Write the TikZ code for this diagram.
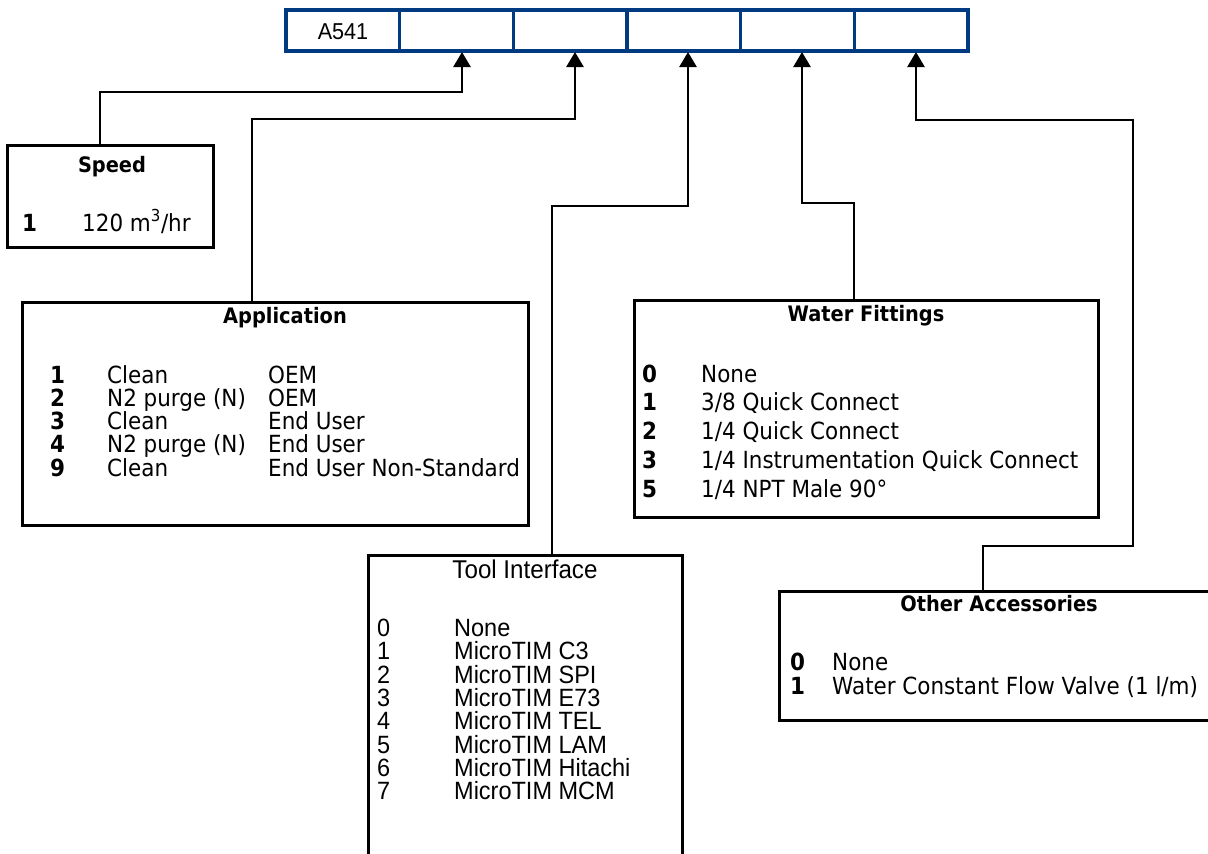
\documentclass[tikz,border=0pt]{standalone}
\usepackage{fontspec}
\setmainfont{DejaVu Sans}[FakeStretch=0.91]
\newfontfamily\arialf{Liberation Sans}[FakeStretch=0.94]
\usetikzlibrary{arrows.meta}
\definecolor{barblue}{RGB}{0,58,128}
\begin{document}
\begin{tikzpicture}[x=1pt,y=-1pt,
  cell/.style={draw=barblue,line width=3.3pt,minimum width=113.67pt,minimum height=41pt,inner sep=0pt,outer sep=0pt,anchor=north west},
  box/.style={draw=black,line width=3pt,inner sep=0pt,outer sep=0pt},
  conn/.style={draw=black,line width=2.6pt},
  arr/.style={conn,-{Triangle[length=15pt,width=17pt]}},
  tight/.style={inner sep=0pt,text height=0.72em,text depth=0.12em},
  ttl/.style={tight,font=\fontsize{21.3}{24}\selectfont\bfseries,anchor=base},
  txt/.style={tight,font=\fontsize{23.6}{26}\selectfont,anchor=base west},
  num/.style={tight,font=\fontsize{23.6}{26}\selectfont\bfseries,anchor=base west},
  ttl2/.style={tight,font=\arialf\fontsize{25.7}{28}\selectfont,anchor=base},
  ttxt/.style={tight,font=\arialf\fontsize{25}{28}\selectfont,anchor=base west},
]
\useasboundingbox (0,0) rectangle (1208,854);
\fill[white] (0,0) rectangle (1208,854);

% code bar
\node[cell] (c0) at (286,10) {};
\node[cell] (c1) at (399.67,10) {};
\node[cell] (c2) at (513.33,10) {};
\node[cell] (c3) at (627,10) {};
\node[cell] (c4) at (740.67,10) {};
\node[cell] (c5) at (854.33,10) {};
\node[tight,font=\arialf\fontsize{23}{26}\selectfont,anchor=base] (code) at (343,39) {A541};

% boxes
\node[box,minimum width=506pt,minimum height=223pt] (app) at (275,413.5) {};
\node[box,minimum width=206pt,minimum height=102pt] (spd) at (110,196) {};
\node[box,minimum width=464pt,minimum height=217pt] (wat) at (866,408.5) {};
\node[box,minimum width=314pt,minimum height=330pt] (tool) at (525,720) {};
\node[box,minimum width=461pt,minimum height=129pt] (oth) at (1009.5,655.5) {};

% connectors
\coordinate (k1) at (100,92);
\coordinate (k2) at (252,119);
\coordinate (k3) at (552,206);
\coordinate (k4) at (854,203);
\coordinate (k5a) at (983,546);
\coordinate (k5b) at (1133,546);
\coordinate (k5c) at (1133,120);
\draw[arr] (spd.north -| k1) -- (k1) -| ([shift={(5.5,1)}]c1.south);
\draw[arr] (app.north -| k2) -- (k2) -| ([shift={(4.83,1)}]c2.south);
\draw[arr] (tool.north -| k3) -- (k3) -| ([shift={(4.17,1)}]c3.south);
\draw[arr] (wat.north -| k4) -- (k4) -| ([shift={(4.5,1)}]c4.south);
\draw[arr] (oth.north -| k5a) -- (k5a) -- (k5b) -- (k5c) -| ([shift={(4.83,1)}]c5.south);

% Speed
\node[ttl] (spdt) at (112,172) {Speed};
\node[num] (s1n) at (22,231) {1};
\node[txt] (s1t) at (82,231) {120 m\textsuperscript{3}/hr};

% Application
\node[ttl] (appt) at (285,323) {Application};
\node[num] (a1n) at (50,383) {1};
\node[txt] (a1a) at (107,383) {Clean};
\node[txt] (a1b) at (268,383) {OEM};
\node[num] (a2n) at (50,406.3) {2};
\node[txt] (a2a) at (107,406.3) {N2 purge (N)};
\node[txt] (a2b) at (268,406.3) {OEM};
\node[num] (a3n) at (50,429.6) {3};
\node[txt] (a3a) at (107,429.6) {Clean};
\node[txt] (a3b) at (268,429.6) {End User};
\node[num] (a4n) at (50,452.9) {4};
\node[txt] (a4a) at (107,452.9) {N2 purge (N)};
\node[txt] (a4b) at (268,452.9) {End User};
\node[num] (a5n) at (50,476.2) {9};
\node[txt] (a5a) at (107,476.2) {Clean};
\node[txt] (a5b) at (268,476.2) {End User Non-Standard};

% Water Fittings
\node[ttl] (watt) at (866,321) {Water Fittings};
\node[num] (w0n) at (642,382) {0};
\node[txt] (w0t) at (701,382) {None};
\node[num] (w1n) at (642,410.8) {1};
\node[txt] (w1t) at (701,410.8) {3/8 Quick Connect};
\node[num] (w2n) at (642,439.6) {2};
\node[txt] (w2t) at (701,439.6) {1/4 Quick Connect};
\node[num] (w3n) at (642,468.4) {3};
\node[txt] (w3t) at (701,468.4) {1/4 Instrumentation Quick Connect};
\node[num] (w5n) at (642,497.2) {5};
\node[txt] (w5t) at (701,497.2) {1/4 NPT Male 90°};

% Tool Interface
\node[ttl2] (toolt) at (525,578) {Tool Interface};
\node[ttxt] (t0n) at (377,636.5) {0};
\node[ttxt] (t0t) at (454,636.5) {None};
\node[ttxt] (t1n) at (377,659.8) {1};
\node[ttxt] (t1t) at (454,659.8) {MicroTIM C3};
\node[ttxt] (t2n) at (377,683.1) {2};
\node[ttxt] (t2t) at (454,683.1) {MicroTIM SPI};
\node[ttxt] (t3n) at (377,706.4) {3};
\node[ttxt] (t3t) at (454,706.4) {MicroTIM E73};
\node[ttxt] (t4n) at (377,729.7) {4};
\node[ttxt] (t4t) at (454,729.7) {MicroTIM TEL};
\node[ttxt] (t5n) at (377,753) {5};
\node[ttxt] (t5t) at (454,753) {MicroTIM LAM};
\node[ttxt] (t6n) at (377,776.3) {6};
\node[ttxt] (t6t) at (454,776.3) {MicroTIM Hitachi};
\node[ttxt] (t7n) at (377,799.6) {7};
\node[ttxt] (t7t) at (454,799.6) {MicroTIM MCM};

% Other Accessories
\node[ttl] (otht) at (999,611) {Other Accessories};
\node[num] (o0n) at (790,670) {0};
\node[txt] (o0t) at (832,670) {None};
\node[num] (o1n) at (790,694) {1};
\node[txt] (o1t) at (832,694) {Water Constant Flow Valve (1 l/m)};
\end{tikzpicture}
\end{document}
